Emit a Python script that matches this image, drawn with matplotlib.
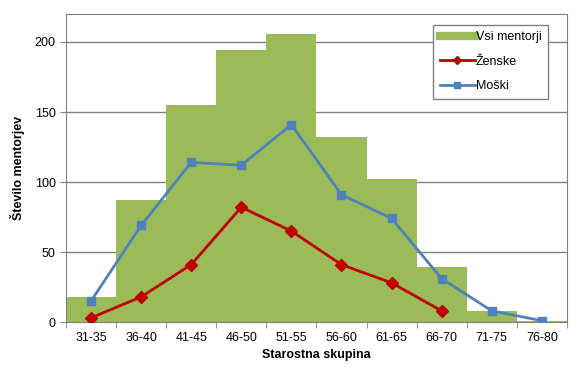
import matplotlib
matplotlib.use("Agg")
import matplotlib.pyplot as plt
from matplotlib.lines import Line2D

# age groups and counts
groups = ["31-35", "36-40", "41-45", "46-50", "51-55",
          "56-60", "61-65", "66-70", "71-75", "76-80"]
vsi = [18, 87, 155, 194, 206, 132, 102, 39, 8, 1]
zenske = [3, 18, 41, 82, 65, 41, 28, 8]
moski = [15, 69, 114, 112, 141, 91, 74, 31, 8, 1]

plt.rcParams['font.family'] = ['Liberation Sans', 'DejaVu Sans']

fig = plt.figure(figsize=(5.82, 3.78), dpi=100)
ax = fig.add_axes([0.1134, 0.148, 0.8606, 0.815])

x = list(range(len(groups)))
ax.bar(x, vsi, width=1.0, color='#9BBB59', zorder=2)
ax.plot(range(len(zenske)), zenske, color='#C00000', lw=2, marker='D', ms=6.5, zorder=3)
ax.plot(x, moski, color='#4F81BD', lw=2, marker='s', ms=6, zorder=4)

ax.set_xlim(-0.5, len(groups) - 0.5)
ax.set_ylim(0, 220)
ax.set_yticks([0, 50, 100, 150, 200])
ax.yaxis.grid(True, color='#808080', lw=1, zorder=0)
ax.set_axisbelow(True)

ax.set_xticks(x)
ax.set_xticklabels(groups)
ax.set_xticks([i - 0.5 for i in range(len(groups) + 1)], minor=True)
ax.tick_params(axis='x', which='major', length=0, pad=7, labelsize=9)
ax.tick_params(axis='x', which='minor', length=4, color='#808080')
ax.tick_params(axis='y', length=4, color='#808080', labelsize=9)

for s in ax.spines.values():
    s.set_color('#808080')

ax.set_ylabel("Število mentorjev", fontsize=9, fontweight='bold', labelpad=7)
ax.set_xlabel("Starostna skupina", fontsize=9, fontweight='bold', labelpad=4)

handles = [
    Line2D([0], [0], color='#9BBB59', lw=6),
    Line2D([0], [0], color='#C00000', lw=2, marker='D', ms=4),
    Line2D([0], [0], color='#4F81BD', lw=2, marker='s', ms=5),
]
leg = ax.legend(handles, ["Vsi mentorji", "Ženske", "Moški"],
                loc='upper right', bbox_to_anchor=(0.962, 0.964),
                borderaxespad=0,
                fontsize=9, fancybox=False, edgecolor='#808080',
                handlelength=2.8, handletextpad=0.1, labelspacing=1.0,
                borderpad=0.5, framealpha=1)
leg.get_frame().set_linewidth(1)

fig.savefig("out.png", dpi=100)
